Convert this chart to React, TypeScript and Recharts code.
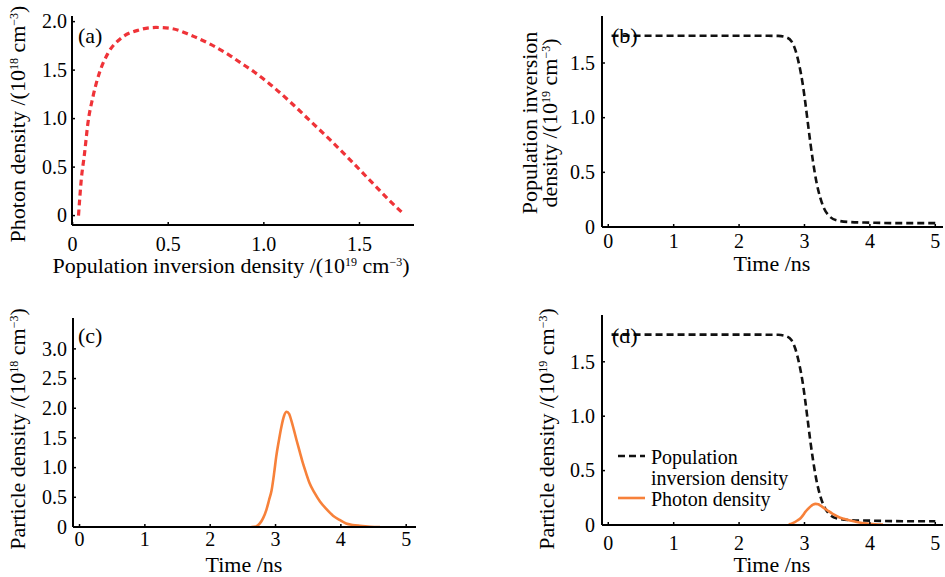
import React from "react";
import { LineChart, Line, XAxis, YAxis, Label } from "recharts";

// (a) photon density vs population inversion density
const inversionA = [0.031, 0.045, 0.0625, 0.08, 0.106, 0.14, 0.184, 0.254, 0.34, 0.436, 0.514, 0.618, 0.722, 0.827, 0.879, 0.95, 1.035, 1.139, 1.243, 1.347, 1.451, 1.556, 1.66, 1.73];
const photonA = [0, 0.36, 0.64, 0.95, 1.22, 1.47, 1.67, 1.83, 1.91, 1.94, 1.93, 1.86, 1.765, 1.645, 1.575, 1.48, 1.35, 1.17, 0.975, 0.78, 0.575, 0.36, 0.15, 0.018];

// (b)/(d) population inversion density vs time, 10^19 cm^-3
const timeInv = [0.05, 1, 2, 2.6, 2.72, 2.8, 2.86, 2.92, 2.97, 3.01, 3.05, 3.09, 3.13, 3.18, 3.24, 3.3, 3.38, 3.5, 3.7, 4, 4.5, 5];
const inversion = [1.75, 1.75, 1.75, 1.748, 1.735, 1.7, 1.62, 1.48, 1.32, 1.15, 0.96, 0.77, 0.6, 0.42, 0.27, 0.17, 0.1, 0.06, 0.045, 0.04, 0.035, 0.035];

// (c) photon density vs time, 10^18 cm^-3
const timePhotonC = [2.63, 2.7, 2.76, 2.81, 2.86, 2.9, 2.94, 2.98, 3.01, 3.05, 3.09, 3.13, 3.17, 3.21, 3.24, 3.28, 3.32, 3.37, 3.42, 3.47, 3.52, 3.6, 3.68, 3.78, 3.88, 3.98, 4.08, 4.18, 4.29, 4.45, 4.6];
const photonC = [0, 0.01, 0.06, 0.15, 0.29, 0.45, 0.62, 0.92, 1.18, 1.45, 1.69, 1.87, 1.94, 1.9, 1.8, 1.64, 1.47, 1.27, 1.07, 0.9, 0.74, 0.57, 0.43, 0.3, 0.19, 0.12, 0.06, 0.035, 0.02, 0.005, 0];

// (d) photon density vs time, 10^19 cm^-3
const timePhotonD = [2.76, 2.81, 2.86, 2.9, 2.94, 2.98, 3.01, 3.05, 3.09, 3.13, 3.17, 3.21, 3.24, 3.28, 3.32, 3.37, 3.42, 3.47, 3.52, 3.6, 3.68, 3.78, 3.88, 3.98, 4.08, 4.2];
const photonD = [0.006, 0.015, 0.029, 0.045, 0.062, 0.092, 0.118, 0.145, 0.169, 0.187, 0.194, 0.19, 0.18, 0.164, 0.147, 0.127, 0.107, 0.09, 0.074, 0.057, 0.043, 0.03, 0.019, 0.012, 0.006, 0.003];

const ticksInvX = [0, 0.5, 1, 1.5];
const ticksPhotonA = [0, 0.5, 1, 1.5, 2];
const ticksTime = [0, 1, 2, 3, 4, 5];
const ticksInvY = [0, 0.5, 1, 1.5];
const ticksPhotonC = [0, 0.5, 1, 1.5, 2, 2.5, 3];

const FONT = '"Liberation Serif", "Times New Roman", serif';
const RED = "#ef3338";
const ORANGE = "#f7813a";
const BLACK = "#111";
const TICK_IN = 3; // inward tick length

const zip = (xs: number[], ys: number[]) => xs.map((x, i) => ({ x, y: ys[i] }));
const fmt1 = (v: number) => (v === 0 ? "0" : v.toFixed(1));
const fmt0 = (v: number) => String(v);

const xTick = (fmt: (v: number) => string, off: number) => (p: any) => (
  <text x={p.x} y={p.y + TICK_IN + off} textAnchor="middle" fontFamily={FONT} fontSize={20} fill="#000">
    {fmt(p.payload.value)}
  </text>
);
const yTick = (fmt: (v: number) => string, gap: number) => (p: any) => (
  <text x={p.x - TICK_IN - gap} y={p.y} dy="0.34em" textAnchor="end" fontFamily={FONT} fontSize={20} fill="#000">
    {fmt(p.payload.value)}
  </text>
);

// unit text: "/(10^e cm^-3)"
function Unit({ exp }: { exp: string }) {
  return (
    <>
      /(10
      <tspan dy={-7} fontSize={12}>{exp}</tspan>
      <tspan dy={7}> cm</tspan>
      <tspan dy={-7} fontSize={12}>−3</tspan>
      <tspan dy={7}>)</tspan>
    </>
  );
}

function YTitle({ x, y, children }: { x: number; y: number; children: React.ReactNode }) {
  return (
    <text
      x={x}
      y={y}
      transform={`rotate(-90, ${x}, ${y})`}
      textAnchor="middle"
      fontFamily={FONT}
      fontSize={22}
      fill="#000"
    >
      {children}
    </text>
  );
}

function Txt({ x, y, anchor = "start", size = 22, children }: { x: number; y: number; anchor?: string; size?: number; children: React.ReactNode }) {
  return (
    <text x={x} y={y} textAnchor={anchor} fontFamily={FONT} fontSize={size} fill="#000">
      {children}
    </text>
  );
}

type Series = { data: { x: number; y: number }[]; stroke: string; dash?: string; width: number };

function Panel(props: {
  left: number;
  top: number;
  width: number;
  height: number;
  margin: { top: number; right: number; left: number; bottom: number };
  yWidth: number;
  xHeight: number;
  xDomain: [number, number];
  yDomain: [number, number];
  xTicks: number[];
  yTicks: number[];
  xFmt: (v: number) => string;
  yFmt: (v: number) => string;
  xOff: number;
  yGap: number;
  series: Series[];
  notes: React.ReactNode;
}) {
  const axisLine = { stroke: "#000", strokeWidth: 2 };
  const tickLine = { stroke: "#000", strokeWidth: 1.5 };
  return (
    <div style={{ position: "absolute", left: props.left, top: props.top }}>
      <LineChart width={props.width} height={props.height} margin={props.margin}>
        <XAxis
          type="number"
          dataKey="x"
          domain={props.xDomain}
          ticks={props.xTicks}
          allowDataOverflow
          axisLine={axisLine}
          tickLine={tickLine}
          tickSize={-TICK_IN}
          tickMargin={0}
          tick={xTick(props.xFmt, props.xOff)}
          height={props.xHeight}
          interval={0}
        >
          <Label content={() => <g>{props.notes}</g>} />
        </XAxis>
        <XAxis
          xAxisId="top"
          orientation="top"
          type="number"
          dataKey="x"
          domain={props.xDomain}
          allowDataOverflow
          axisLine={axisLine}
          tick={false}
          tickLine={false}
          height={0}
        />
        <YAxis
          type="number"
          domain={props.yDomain}
          ticks={props.yTicks}
          allowDataOverflow
          axisLine={axisLine}
          tickLine={tickLine}
          tickSize={-TICK_IN}
          tickMargin={0}
          tick={yTick(props.yFmt, props.yGap)}
          width={props.yWidth}
          interval={0}
        />
        <YAxis
          yAxisId="right"
          orientation="right"
          type="number"
          domain={props.yDomain}
          allowDataOverflow
          axisLine={axisLine}
          tick={false}
          tickLine={false}
          width={0}
        />
        {props.series.map((s, i) => (
          <Line
            key={i}
            data={s.data}
            dataKey="y"
            type="monotone"
            stroke={s.stroke}
            strokeWidth={s.width}
            strokeDasharray={s.dash}
            dot={false}
            activeDot={false}
            isAnimationActive={false}
          />
        ))}
      </LineChart>
    </div>
  );
}

export default function App() {
  return (
    <div style={{ position: "absolute", left: 0, top: 0, width: 945, height: 577, background: "#fff" }}>
      {/* (a) */}
      <Panel
        left={0}
        top={0}
        width={420}
        height={290}
        margin={{ top: 16, right: 6, left: 0, bottom: 0 }}
        yWidth={72}
        xHeight={65}
        xDomain={[-0.003, 1.785]}
        yDomain={[-0.097, 2.058]}
        xTicks={ticksInvX}
        yTicks={ticksPhotonA}
        xFmt={fmt1}
        yFmt={fmt1}
        xOff={26}
        yGap={5}
        series={[{ data: zip(inversionA, photonA), stroke: RED, dash: "6 4", width: 3.2 }]}
        notes={
          <>
            <Txt x={78} y={43}>(a)</Txt>
            <Txt x={231} y={273} anchor="middle">
              Population inversion density <Unit exp="19" />
            </Txt>
            <YTitle x={25} y={124}>
              Photon density <Unit exp="18" />
            </YTitle>
          </>
        }
      />
      {/* (b) */}
      <Panel
        left={480}
        top={0}
        width={465}
        height={290}
        margin={{ top: 16, right: 2, left: 0, bottom: 0 }}
        yWidth={122}
        xHeight={63}
        xDomain={[-0.096, 5.118]}
        yDomain={[0, 1.93]}
        xTicks={ticksTime}
        yTicks={ticksInvY}
        xFmt={fmt0}
        yFmt={fmt1}
        xOff={21}
        yGap={7}
        series={[{ data: zip(timeInv, inversion), stroke: BLACK, dash: "7 4", width: 2.6 }]}
        notes={
          <>
            <Txt x={132} y={43}>(b)</Txt>
            <Txt x={292} y={271} anchor="middle">Time /ns</Txt>
            <YTitle x={57} y={123}>Population inversion</YTitle>
            <YTitle x={77} y={123}>
              density <Unit exp="19" />
            </YTitle>
          </>
        }
      />
      {/* (c) */}
      <Panel
        left={0}
        top={290}
        width={420}
        height={287}
        margin={{ top: 28, right: 4, left: 0, bottom: 0 }}
        yWidth={73}
        xHeight={50}
        xDomain={[-0.1, 5.15]}
        yDomain={[0, 3.52]}
        xTicks={ticksTime}
        yTicks={ticksPhotonC}
        xFmt={fmt0}
        yFmt={fmt1}
        xOff={19}
        yGap={6}
        series={[{ data: zip(timePhotonC, photonC), stroke: ORANGE, width: 2.6 }]}
        notes={
          <>
            <Txt x={78} y={53}>(c)</Txt>
            <Txt x={244} y={282} anchor="middle">Time /ns</Txt>
            <YTitle x={25} y={139}>
              Particle density <Unit exp="18" />
            </YTitle>
          </>
        }
      />
      {/* (d) */}
      <Panel
        left={480}
        top={290}
        width={465}
        height={287}
        margin={{ top: 25, right: 2, left: 0, bottom: 0 }}
        yWidth={122}
        xHeight={52}
        xDomain={[-0.096, 5.118]}
        yDomain={[0, 1.93]}
        xTicks={ticksTime}
        yTicks={ticksInvY}
        xFmt={fmt0}
        yFmt={fmt1}
        xOff={25}
        yGap={7}
        series={[
          { data: zip(timeInv, inversion), stroke: BLACK, dash: "7 4", width: 2.6 },
          { data: zip(timePhotonD, photonD), stroke: ORANGE, width: 2.6 },
        ]}
        notes={
          <>
            <Txt x={132} y={53}>(d)</Txt>
            <Txt x={292} y={282} anchor="middle">Time /ns</Txt>
            <YTitle x={74} y={139}>
              Particle density <Unit exp="19" />
            </YTitle>
            <line x1={138} x2={165} y1={166} y2={166} stroke={BLACK} strokeWidth={2.6} strokeDasharray="7 4" />
            <line x1={138} x2={165} y1={208} y2={208} stroke={ORANGE} strokeWidth={2.6} />
            <Txt x={171} y={174} size={20}>Population</Txt>
            <Txt x={171} y={195} size={20}>inversion density</Txt>
            <Txt x={171} y={216} size={20}>Photon density</Txt>
          </>
        }
      />
    </div>
  );
}
